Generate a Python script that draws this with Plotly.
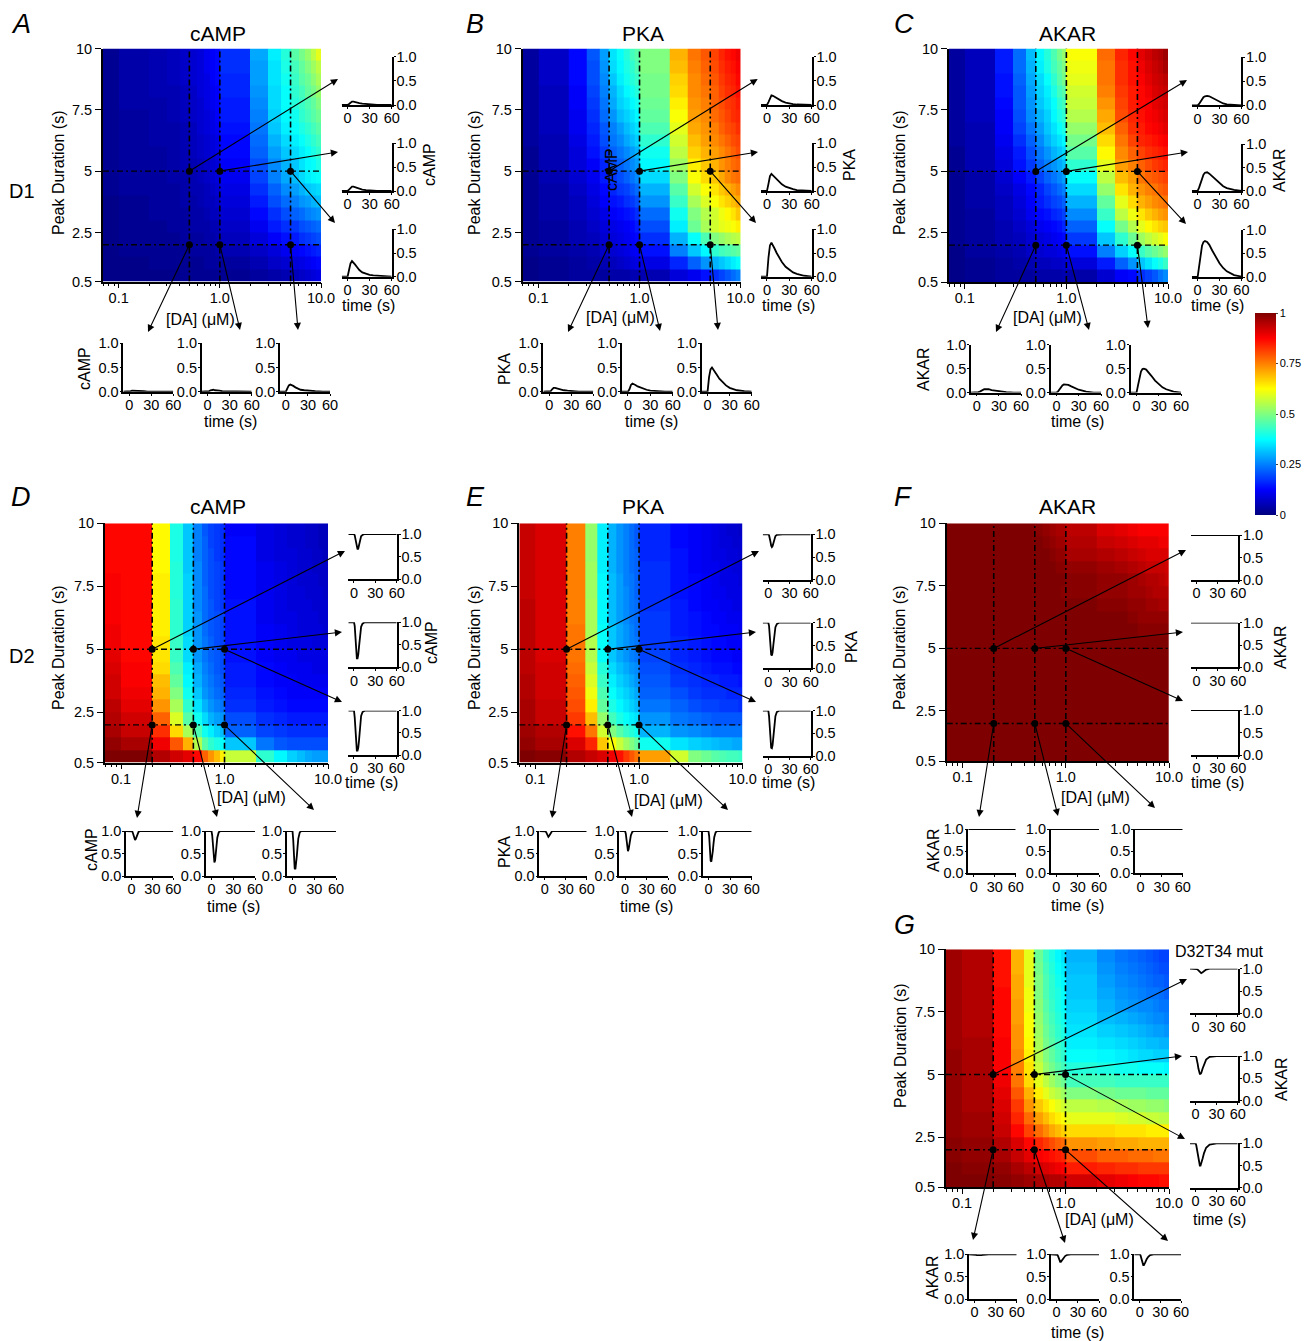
import math
import plotly.graph_objects as go

W, H = 1315, 1341
FONT = "Liberation Sans, Arial, sans-serif"
PAGE_OFFSET = 8  # default page margin of the written html

# ---------- data ----------
DA_EDGES = [0.07, 0.1, 0.2, 0.3, 0.4, 0.5, 0.6, 0.7, 0.8, 0.9, 1, 2, 3, 4, 5, 6, 7, 8, 9, 10]
PEAK_EDGES = [0.5, 1, 1.5, 2, 2.5, 3, 3.5, 4, 4.5, 5, 5.5, 6, 6.5, 7, 7.5, 8, 8.5, 9, 9.5, 10]
DA_MARKS_D1 = [0.5, 1, 5]
DA_MARKS_D2 = [0.2, 0.5, 1]
PEAK_MARKS = [5, 2]
T_RISE = [-8, 0, 2, 4, 6, 8, 10, 13, 16, 20, 25, 30, 35, 40, 50, 60]
T_DIP = [-8, 0, 1, 2, 3, 4, 5, 6, 7, 8, 10, 12, 15, 20, 30, 60]

# heat maps: percent of max, rows listed from the top (10 s) to the bottom (0.5 s)
A_ROWS = [
 [2,4,5,6,7,8,9,11,12,13,17,29,36,41,46,49,52,56,60],
 [2,4,5,6,7,8,9,11,12,13,17,28,35,40,44,47,50,53,56],
 [2,4,5,6,7,8,9,10,12,13,16,28,35,39,43,46,48,51,54],
 [2,4,5,5,6,7,9,10,11,12,16,27,34,38,42,44,47,49,52],
 [2,4,4,5,6,7,8,10,11,12,15,26,34,38,41,43,45,47,50],
 [2,3,4,5,6,7,8,9,10,12,15,25,33,37,39,42,44,46,48],
 [2,3,4,4,5,6,8,9,10,11,14,24,32,36,38,40,42,44,46],
 [2,3,4,4,5,6,7,8,9,10,13,23,30,34,36,38,40,42,44],
 [2,3,3,4,5,6,7,8,9,10,13,22,28,32,34,36,38,40,42],
 [2,3,3,4,5,5,6,7,8,9,12,20,26,30,32,35,37,38,40],
 [2,3,3,4,4,5,6,7,8,9,11,19,25,29,31,34,36,37,38],
 [2,3,3,3,4,5,5,6,7,8,10,17,22,26,28,30,32,33,34],
 [1,2,3,3,4,4,5,6,6,7,9,15,20,23,25,27,28,30,31],
 [1,2,3,3,3,4,4,5,6,6,8,13,17,20,22,23,25,26,27],
 [1,2,2,3,3,4,4,4,5,5,7,11,15,17,18,20,21,22,23],
 [1,2,2,2,3,3,3,4,4,5,6,9,12,14,15,17,18,19,20],
 [1,2,2,2,2,3,3,3,3,4,5,7,9,11,12,13,14,15,16],
 [1,1,2,2,2,2,2,3,3,3,3,5,7,8,9,10,11,12,13],
 [1,1,1,1,2,2,2,2,2,2,2,3,4,5,6,7,8,9,10],
]
B_ROWS = [
 [3,7,13,21,28,35,38,41,44,46,50,70,76,79,81,84,86,87,89],
 [3,7,13,20,27,34,37,40,42,45,50,69,75,78,80,83,85,86,88],
 [3,7,13,20,26,32,36,39,41,43,49,67,74,77,79,82,84,85,87],
 [3,6,12,19,25,30,34,37,39,41,49,66,74,76,78,81,83,84,86],
 [3,6,12,18,24,29,33,35,37,39,48,64,73,75,78,80,82,83,85],
 [3,6,11,17,23,27,31,33,35,37,47,62,72,74,77,79,81,83,84],
 [3,6,11,16,21,25,28,31,33,35,45,60,71,73,75,78,80,81,83],
 [3,5,10,15,20,24,26,29,31,33,42,58,69,72,74,76,78,80,81],
 [2,5,9,14,18,22,24,26,28,30,39,56,67,70,72,74,76,78,80],
 [2,5,9,12,16,20,22,24,26,28,37,53,64,68,70,73,75,77,78],
 [2,5,8,11,15,18,20,22,24,26,34,50,62,66,68,71,74,76,77],
 [2,4,7,10,13,16,18,19,21,23,30,46,58,62,65,68,70,72,74],
 [2,4,6,9,12,14,15,17,18,20,27,43,54,59,62,65,67,69,71],
 [2,4,6,8,10,12,13,14,15,17,23,39,50,55,58,61,63,65,68],
 [2,3,5,7,9,10,11,12,13,15,20,36,48,54,58,60,61,62,64],
 [2,3,5,6,8,9,10,11,12,13,17,30,38,45,50,52,54,55,56],
 [2,3,4,5,7,8,9,10,11,12,14,25,32,37,42,44,45,46,47],
 [1,2,3,4,5,6,7,8,9,10,10,16,22,27,30,32,34,36,38],
 [1,2,3,3,3,4,4,4,5,5,5,9,11,14,17,19,21,23,25],
]
C_ROWS = [
 [3,6,15,23,31,37,41,45,49,52,62,77,84,87,90,92,94,95,97],
 [3,6,15,23,30,36,40,44,47,50,61,76,83,86,89,91,93,94,96],
 [3,6,14,22,29,34,38,42,46,49,60,76,83,86,88,90,92,93,94],
 [3,6,14,21,28,33,36,40,44,46,58,75,82,85,87,89,91,92,93],
 [3,6,13,21,27,32,35,38,42,44,57,73,81,85,87,88,90,91,92],
 [3,6,12,20,26,30,33,37,40,42,55,71,80,84,86,88,89,90,91],
 [3,5,12,19,24,28,32,35,38,40,52,69,78,83,85,87,88,89,90],
 [3,5,11,17,22,26,30,33,35,37,49,66,76,81,84,85,86,87,88],
 [2,5,10,15,20,24,27,30,32,34,46,63,74,78,81,83,84,85,86],
 [2,5,9,14,18,22,25,27,29,31,42,60,72,75,78,80,82,83,84],
 [2,4,8,12,15,19,22,24,26,28,38,56,69,72,76,78,79,80,81],
 [2,4,7,10,13,16,19,21,23,25,34,52,65,70,73,75,76,78,79],
 [2,4,6,9,12,15,17,19,20,22,30,47,60,66,70,72,74,75,76],
 [2,3,6,8,11,13,14,16,17,19,26,43,56,61,65,68,70,72,73],
 [2,3,5,7,9,11,12,13,14,16,22,38,49,55,60,63,65,67,68],
 [2,3,5,6,8,9,10,11,12,13,18,32,42,48,53,56,58,60,62],
 [1,3,4,5,7,8,9,9,10,11,14,25,33,38,43,46,48,50,52],
 [1,2,3,4,5,6,6,7,7,8,9,15,22,27,32,35,38,40,43],
 [1,2,3,3,3,4,4,4,4,5,4,8,12,13,17,19,21,24,26],
]
D_ROWS = [
 [87,87,63,40,32,25,21,19,18,17,12,10,9,8,8,7,7,6,6],
 [87,87,63,40,32,25,22,19,18,17,13,10,9,8,8,7,7,6,6],
 [87,87,63,40,32,25,22,20,18,17,13,10,9,9,8,8,7,7,6],
 [87,87,63,41,32,26,22,20,19,18,13,11,10,9,8,8,7,7,7],
 [88,87,64,41,33,26,22,20,19,18,13,11,10,9,8,8,8,7,7],
 [88,87,64,41,33,26,23,20,19,18,13,11,10,9,9,8,8,8,7],
 [88,87,64,42,33,26,23,21,19,18,14,11,10,9,9,9,8,8,8],
 [88,87,64,42,33,27,23,21,20,19,14,11,10,10,9,9,9,8,8],
 [89,87,64,42,33,27,23,21,20,19,14,12,11,10,9,9,9,9,8],
 [89,87,65,43,34,27,24,22,20,19,14,12,11,10,10,10,9,9,9],
 [90,87,65,43,34,27,24,22,21,20,14,12,11,11,10,10,10,10,10],
 [91,88,66,45,36,29,25,23,21,20,15,13,12,11,11,11,10,10,10],
 [92,88,69,47,37,30,26,24,22,21,15,13,12,12,11,11,11,11,11],
 [92,89,70,50,39,32,27,25,23,22,16,14,13,12,12,12,12,12,12],
 [94,90,73,54,42,35,30,27,25,24,17,15,14,13,13,13,13,13,13],
 [95,92,78,59,46,39,34,30,28,27,20,17,16,15,15,15,15,15,15],
 [96,93,83,66,54,45,39,36,33,31,22,19,18,17,17,17,17,17,17],
 [98,96,89,79,70,55,46,42,40,38,32,24,21,20,20,20,20,20,20],
 [100,100,95,92,90,87,78,73,69,64,57,42,37,33,31,29,28,28,28],
]
E_ROWS = [
 [93,91,75,52,36,30,27,25,23,21,16,13,12,11,10,9,8,8,7],
 [93,91,75,52,36,30,27,25,23,21,16,13,12,11,10,9,9,8,8],
 [93,91,75,52,36,30,27,25,23,22,16,14,12,11,10,10,9,9,8],
 [93,91,75,53,36,30,27,25,23,22,17,14,12,11,11,10,10,9,9],
 [93,91,75,53,37,31,28,25,24,22,17,14,13,12,11,10,10,10,9],
 [93,91,75,53,37,31,28,26,24,22,17,14,13,12,11,11,10,10,10],
 [94,91,75,54,37,31,28,26,24,23,17,15,13,12,12,11,11,10,10],
 [94,91,75,54,37,31,28,26,24,23,18,15,14,13,12,12,11,11,11],
 [94,91,76,54,38,32,29,27,25,23,18,15,14,13,13,12,12,12,11],
 [94,91,76,55,38,32,29,27,25,24,18,16,15,14,13,13,12,12,12],
 [94,91,76,55,38,32,29,27,25,24,19,16,15,14,13,13,13,12,12],
 [94,92,77,57,41,34,31,29,27,26,20,17,16,15,14,14,14,13,13],
 [95,92,78,59,43,36,33,31,29,27,21,18,17,16,16,15,15,15,14],
 [95,92,79,61,45,38,35,33,31,29,22,20,18,17,17,17,16,16,16],
 [96,93,80,64,47,40,37,35,33,31,24,22,20,19,19,18,18,18,17],
 [96,93,82,69,52,44,40,38,36,35,27,24,23,22,21,21,21,21,21],
 [97,95,86,76,58,50,46,43,41,39,30,27,26,25,24,24,24,24,24],
 [98,96,91,84,68,62,57,53,50,47,39,35,33,32,31,30,30,29,29],
 [100,99,95,93,91,89,86,82,79,76,72,58,50,48,46,45,44,44,43],
]
F_ROWS = [
 [100,100,100,100,100,99,98,97,96,96,94,91,90,89,88,88,88,88,88],
 [100,100,100,100,100,100,99,98,97,97,95,93,92,91,90,90,90,89,89],
 [100,100,100,100,100,100,100,99,98,98,96,95,94,93,92,91,91,91,91],
 [100,100,100,100,100,100,100,100,99,99,98,97,96,95,94,93,93,93,92],
 [100,100,100,100,100,100,100,100,100,100,99,98,98,97,96,95,95,94,93],
 [100,100,100,100,100,100,100,100,100,99,99,98,98,97,97,96,95,95,95],
 [100,100,100,100,100,100,100,100,100,100,100,99,99,98,98,97,97,96,96],
 [100,100,100,100,100,100,100,100,100,100,100,100,100,99,98,98,98,98,98],
 [100,100,100,100,100,100,100,100,100,100,100,100,100,100,99,99,99,99,99],
 [100,100,100,100,100,100,100,100,100,100,100,100,100,100,100,100,100,100,100],
 [100,100,100,100,100,100,100,100,100,100,100,100,100,100,100,100,100,100,100],
 [100,100,100,100,100,100,100,100,100,100,100,100,100,100,100,100,100,100,100],
 [100,100,100,100,100,100,100,100,100,100,100,100,100,100,100,100,100,100,100],
 [100,100,100,100,100,100,100,100,100,100,100,100,100,100,100,100,100,100,100],
 [100,100,100,100,100,100,100,100,100,100,100,100,100,100,100,100,100,100,100],
 [100,100,100,100,100,100,100,100,100,100,100,100,100,100,100,100,100,100,100],
 [100,100,100,100,100,100,100,100,100,100,100,100,100,100,100,100,100,100,100],
 [100,100,100,100,100,100,100,100,100,100,100,100,100,100,100,100,100,100,100],
 [100,100,100,100,100,100,100,100,100,100,100,100,100,100,100,100,100,100,100],
]
G_ROWS = [
 [97,95,86,70,60,48,43,40,37,35,30,26,24,23,22,21,20,19,19],
 [97,95,86,70,60,49,44,41,38,36,31,27,25,24,23,22,21,20,20],
 [97,95,86,71,60,50,45,42,39,37,32,28,26,25,24,23,22,22,21],
 [97,95,87,71,61,50,45,42,40,38,32,29,27,26,25,24,24,23,22],
 [97,95,87,72,61,51,46,43,40,38,33,30,28,27,26,26,25,24,24],
 [97,95,87,72,62,52,47,44,41,39,34,31,30,29,28,27,26,26,25],
 [97,95,87,73,62,53,48,45,42,40,35,33,32,31,30,29,28,28,27],
 [97,96,88,73,63,54,49,46,43,41,36,35,34,33,32,31,31,30,30],
 [98,96,88,74,64,55,50,47,44,42,38,37,36,35,34,34,33,33,33],
 [98,96,88,75,65,57,52,49,46,44,41,40,39,39,38,38,38,38,37],
 [98,96,89,76,66,60,56,53,50,48,44,44,43,43,43,43,43,43,43],
 [98,96,90,79,70,64,60,57,55,53,50,49,48,48,48,47,47,47,47],
 [98,96,91,82,73,68,65,62,60,58,56,55,54,53,53,52,52,52,51],
 [98,97,92,84,77,72,69,66,64,62,60,60,59,58,58,57,57,56,56],
 [98,97,93,87,81,77,74,71,69,67,66,66,65,65,65,64,64,64,64],
 [99,98,95,91,87,84,82,80,78,77,73,72,71,71,70,70,70,70,70],
 [99,98,96,93,90,88,87,86,85,84,80,78,78,77,77,77,76,76,76],
 [100,99,98,96,94,92,91,90,89,88,85,84,83,83,82,82,82,82,82],
 [100,100,99,98,97,96,96,95,95,94,92,90,89,88,87,87,87,86,86],
]

# time courses (three right insets, then three lower insets)
A_TRACES = [
 [0,0,.02,.05,.07,.07,.06,.05,.04,.03,.02,.01,.01,0,0,0],
 [0,0,.03,.07,.09,.09,.08,.06,.05,.03,.02,.01,.01,0,0,0],
 [0,0,.14,.28,.33,.3,.26,.2,.14,.09,.06,.04,.03,.02,.01,0],
 [0,0,.01,.02,.02,.02,.02,.01,.01,.01,0,0,0,0,0,0],
 [0,0,.01,.03,.04,.04,.03,.03,.02,.01,.01,0,0,0,0,0],
 [0,0,.07,.13,.15,.14,.12,.09,.07,.04,.03,.02,.01,.01,0,0],
]
B_TRACES = [
 [0,0,.06,.15,.2,.19,.17,.14,.11,.08,.05,.03,.02,.01,0,0],
 [0,0,.15,.31,.36,.33,.29,.24,.19,.14,.09,.06,.04,.02,.01,0],
 [0,0,.4,.66,.72,.67,.6,.5,.41,.31,.21,.14,.09,.06,.02,0],
 [0,0,.01,.05,.08,.08,.07,.06,.05,.03,.02,.01,.01,0,0,0],
 [0,0,.05,.14,.17,.16,.14,.11,.09,.06,.04,.02,.01,.01,0,0],
 [0,0,.3,.46,.5,.46,.41,.34,.27,.2,.13,.08,.05,.03,.01,0],
]
C_TRACES = [
 [0,0,.03,.08,.13,.17,.19,.2,.19,.16,.11,.07,.04,.02,.01,0],
 [0,0,.07,.18,.28,.35,.39,.4,.37,.31,.23,.16,.1,.06,.02,0],
 [0,0,.22,.5,.66,.74,.76,.74,.68,.56,.41,.29,.19,.12,.04,.01],
 [0,0,.01,.02,.04,.06,.07,.07,.07,.05,.04,.03,.01,.01,0,0],
 [0,0,.02,.07,.12,.15,.17,.17,.16,.13,.09,.06,.04,.02,0,0],
 [0,0,.15,.34,.44,.49,.5,.48,.43,.35,.25,.17,.11,.07,.02,0],
]
D_TRACES = [
 [1,1,.97,.9,.8,.7,.66,.68,.75,.84,.95,.98,1,1,1,1],
 [1,1,.92,.65,.35,.2,.2,.28,.45,.65,.9,.97,1,1,1,1],
 [1,1,.85,.5,.2,.1,.1,.16,.32,.55,.88,.97,1,1,1,1],
 [1,1,.99,.95,.88,.82,.8,.82,.87,.93,.98,1,1,1,1,1],
 [1,1,.9,.6,.35,.3,.35,.5,.7,.85,.97,1,1,1,1,1],
 [1,1,.8,.4,.17,.15,.25,.45,.65,.83,.97,1,1,1,1,1],
]
E_TRACES = [
 [1,1,.98,.93,.84,.75,.72,.74,.8,.87,.96,.99,1,1,1,1],
 [1,1,.93,.7,.42,.3,.28,.35,.5,.68,.9,.97,1,1,1,1],
 [1,1,.88,.58,.28,.18,.17,.24,.4,.6,.88,.97,1,1,1,1],
 [1,1,.99,.97,.92,.88,.87,.89,.92,.95,.99,1,1,1,1,1],
 [1,1,.94,.75,.58,.55,.6,.7,.82,.9,.98,1,1,1,1,1],
 [1,1,.88,.55,.34,.32,.4,.55,.72,.86,.97,1,1,1,1,1],
]
F_TRACES = [
 [1,1,1,1,1,1,1,1,1,1,1,1,1,1,1,1],
 [1,1,1,1,1,1,1,1,1,1,1,1,1,1,1,1],
 [1,1,1,1,1,1,1,1,1,1,1,1,1,1,1,1],
 [1,1,1,1,1,1,1,1,1,1,1,1,1,1,1,1],
 [1,1,1,1,1,1,1,1,1,1,1,1,1,1,1,1],
 [1,1,1,1,1,1,1,1,1,1,1,1,1,1,1,1],
]
G_TRACES = [
 [1,1,1,.99,.98,.96,.94,.92,.9,.9,.92,.95,.98,1,1,1],
 [1,1,.97,.92,.82,.72,.64,.6,.6,.62,.72,.82,.92,.98,1,1],
 [1,1,.95,.85,.72,.6,.52,.5,.5,.54,.66,.78,.9,.97,1,1],
 [1,1,1,.99,.98,.98,.97,.97,.97,.97,.98,.99,1,1,1,1],
 [1,1,.99,.96,.9,.85,.83,.83,.85,.87,.92,.96,.99,1,1,1],
 [1,1,.98,.92,.84,.78,.76,.76,.78,.82,.89,.94,.98,1,1,1],
]

# ---------- layout of the seven panels (page pixels) ----------
PANELS = [
 dict(rows=A_ROWS, traces=A_TRACES, t=T_RISE, da=DA_MARKS_D1, name="cAMP", box=(103,321,48.5,281.5),
      right_x=(341.7,391.7), right_y=[(56.7,105),(143.3,191),(229.3,276.7)],
      low_x=[(123.3,173.3),(201.7,251.7),(280,330)], low_y=(343.3,391.7),
      heads=[(338,79),(338,152),(335,223),(148,332),(240,330),(298,330)],
      letter=("A",21,24), title=(218,33), peak=(59,173), dalab=(200,319), rlab=(430,165), rtime=(368,305), llab=(85,369), ltime=(230,421)),
 dict(rows=B_ROWS, traces=B_TRACES, t=T_RISE, da=DA_MARKS_D1, name="PKA", box=(522.7,740.7,48.5,281.5),
      right_x=(761,811.7), right_y=[(56.7,105),(143.3,191),(229.3,276.7)],
      low_x=[(543.3,593.3),(622,672.7),(701.7,751.7)], low_y=(343.3,391.7),
      heads=[(757.7,79),(758,152),(756,223),(568,332),(660,331),(718,330)],
      letter=("B",475,24), title=(643,33), peak=(475,173), dalab=(620,317), rlab=(850,165), rtime=(788,305), llab=(505,369), ltime=(651,421)),
 dict(rows=C_ROWS, traces=C_TRACES, t=T_RISE, da=DA_MARKS_D1, name="AKAR", box=(949,1168,48.5,282),
      right_x=(1191.8,1241.4), right_y=[(57.4,105.4),(144.3,190.9),(229.7,277)],
      low_x=[(971,1021),(1050.5,1101),(1130.6,1181)], low_y=(344.6,392.6),
      heads=[(1187,80),(1188,152),(1186,224),(996,332),(1089,330),(1148,328)],
      letter=("C",904,24), title=(1067,33), peak=(900,173), dalab=(1047,317), rlab=(1279,170), rtime=(1217,305), llab=(924,369), ltime=(1077,421)),
 dict(rows=D_ROWS, traces=D_TRACES, t=T_DIP, da=DA_MARKS_D2, name="cAMP", box=(105,328,523.3,762.7),
      right_x=(348.3,396.7), right_y=[(534,579.3),(622.3,667.3),(710.7,755)],
      low_x=[(126,173.3),(205.7,255),(286.7,336)], low_y=(831,876),
      heads=[(345,551),(342,632),(342,702),(137,818),(217,817),(314,810)],
      letter=("D",21,497), title=(218,507), peak=(59,648), dalab=(252,797), rlab=(431,643), rtime=(371,782), llab=(91,850), ltime=(234,907)),
 dict(rows=E_ROWS, traces=E_TRACES, t=T_DIP, da=DA_MARKS_D2, name="PKA", box=(519.3,742.7,523.3,762.7),
      right_x=(762.7,810.7), right_y=[(534.3,579.7),(622.7,668.3),(710.7,756)],
      low_x=[(539.3,586.7),(619.3,668.3),(702.7,751.7)], low_y=(831,876),
      heads=[(759,551),(756,632),(756,702),(552,818),(632,817),(728,810)],
      letter=("E",475,497), title=(643,507), peak=(475,648), dalab=(668,800), rlab=(851,647), rtime=(788,782), llab=(504,852), ltime=(646,906)),
 dict(rows=F_ROWS, traces=F_TRACES, t=T_DIP, da=DA_MARKS_D2, name="AKAR", box=(946.7,1169,523.3,761),
      right_x=(1191,1238.3), right_y=[(535,580),(622.7,667.3),(710,755)],
      low_x=[(968.3,1015.7),(1050.7,1099),(1135,1182.7)], low_y=(829,873.3),
      heads=[(1186,550),(1183,632),(1183,701),(979,817),(1058,816),(1155,808)],
      letter=("F",903,497), title=(1067,507), peak=(900,648), dalab=(1095,797), rlab=(1280,647), rtime=(1217,782), llab=(933,850), ltime=(1077,905)),
 dict(rows=G_ROWS, traces=G_TRACES, t=T_DIP, da=DA_MARKS_D2, name="AKAR", box=(946,1169,949.3,1187.3),
      right_x=(1190,1237.7), right_y=[(968.7,1013.3),(1056,1100.7),(1143.3,1187.7)],
      low_x=[(969,1016.7),(1051,1099),(1134.3,1181)], low_y=(1254.3,1299),
      heads=[(1187,979),(1182,1056),(1185,1139),(973,1240),(1065,1243),(1168,1241)],
      letter=("G",904,925), title=None, peak=(900,1046), dalab=(1099,1219), rlab=(1281,1079), rtime=(1219,1219), llab=(932,1277), ltime=(1077,1332)),
]

JET = [[0, "#00007f"], [0.125, "#0000ff"], [0.375, "#00ffff"], [0.625, "#ffff00"], [0.875, "#ff0000"], [1, "#7f0000"]]
X_LOG_RANGE = [math.log10(0.07), 1]
MINOR_DA = [0.07, 0.08, 0.09, 0.2, 0.3, 0.4, 0.5, 0.6, 0.7, 0.8, 0.9, 2, 3, 4, 5, 6, 7, 8, 9]

fig = go.Figure()
layout = {}
annots = []
count = 0


def fx(x):
    return (x - PAGE_OFFSET) / W


def fy(y):
    return 1 - (y - PAGE_OFFSET) / H


def text(s, x, y, size=16, angle=0):
    annots.append(dict(text=s, x=fx(x), y=fy(y), xref="paper", yref="paper", showarrow=False,
                       xanchor="center", yanchor="middle", textangle=angle,
                       font=dict(family=FONT, size=size, color="black")))


def new_axes(xbox, ybox, xopts, yopts):
    global count
    count += 1
    n = "" if count == 1 else str(count)
    layout["xaxis" + n] = dict(domain=[fx(xbox[0]), fx(xbox[1])], anchor="y" + n, showgrid=False, zeroline=False,
                               showline=True, linecolor="black", ticks="outside", tickcolor="black",
                               tickfont=dict(family=FONT, size=14.5, color="black"), **xopts)
    layout["yaxis" + n] = dict(domain=[fy(ybox[1]), fy(ybox[0])], anchor="x" + n, showgrid=False, zeroline=False,
                               showline=True, linecolor="black", ticks="outside", tickcolor="black",
                               tickfont=dict(family=FONT, size=14.5, color="black"), **yopts)
    return "x" + n, "y" + n


def inset(xbox, ybox, t, values, side, lw):
    xa, ya = new_axes(
        xbox, ybox,
        dict(range=[-8, 60], tickvals=[0, 30, 60], ticktext=["0", "30", "60"], ticklen=2, linewidth=1.6, tickwidth=1,
             ticklabelstandoff=-3),
        dict(range=[0, 1], tickvals=[0, 0.5, 1], ticktext=["0.0", "0.5", "1.0"], ticklen=2, linewidth=1.6,
             tickwidth=1, side=side, ticklabelstandoff=-2),
    )
    fig.add_trace(go.Scatter(x=t, y=values, xaxis=xa, yaxis=ya, mode="lines", cliponaxis=False,
                             line=dict(color="black", width=lw), hoverinfo="skip", showlegend=False))


for p in PANELS:
    x0, x1, y0, y1 = p["box"]
    xa, ya = new_axes(
        (x0, x1), (y0, y1),
        dict(type="log", range=X_LOG_RANGE, tickvals=[0.1, 1, 10], ticktext=["0.1", "1.0", "10.0"], ticklen=5,
             linewidth=1.5, tickwidth=1.2, ticklabelstandoff=-3,
             minor=dict(tickvals=MINOR_DA, ticks="outside", ticklen=3, tickcolor="black")),
        dict(range=[0.5, 10], tickvals=[0.5, 2.5, 5, 7.5, 10], ticktext=["0.5", "2.5", "5", "7.5", "10"], ticklen=6,
             linewidth=2, tickwidth=1.2),
    )
    z = [[v / 100 for v in row] for row in p["rows"][::-1]]
    fig.add_trace(go.Heatmap(x=DA_EDGES, y=PEAK_EDGES, z=z, xaxis=xa, yaxis=ya, coloraxis="coloraxis", hoverinfo="skip"))

    # cross-hair lines and dots, from the data values
    for da in p["da"]:
        fig.add_trace(go.Scatter(x=[da, da], y=[PEAK_EDGES[0], PEAK_EDGES[-1]], xaxis=xa, yaxis=ya, mode="lines",
                                 line=dict(color="black", width=1.6, dash="6px,3px,2px,3px"), hoverinfo="skip", showlegend=False))
    for peak in PEAK_MARKS:
        fig.add_trace(go.Scatter(x=[DA_EDGES[0], DA_EDGES[-1]], y=[peak, peak], xaxis=xa, yaxis=ya, mode="lines",
                                 line=dict(color="black", width=1.4, dash="6px,3px,2px,3px"), hoverinfo="skip", showlegend=False))
    fig.add_trace(go.Scatter(x=[d for _ in PEAK_MARKS for d in p["da"]],
                             y=[pk for pk in PEAK_MARKS for _ in p["da"]], xaxis=xa, yaxis=ya, mode="markers",
                             marker=dict(color="black", size=7), hoverinfo="skip", showlegend=False))

    # arrows from each dot to its inset
    dec = (x1 - x0) / (X_LOG_RANGE[1] - X_LOG_RANGE[0])
    starts = [(x0 + (math.log10(d) - X_LOG_RANGE[0]) * dec, y1 - (pk - 0.5) * (y1 - y0) / 9.5)
              for pk in PEAK_MARKS for d in p["da"]]
    for (sx, sy), (hx, hy) in zip(starts, p["heads"]):
        annots.append(dict(x=fx(hx), y=fy(hy), xref="paper", yref="paper", text="", showarrow=True,
                           axref="pixel", ayref="pixel", ax=sx - hx, ay=sy - hy, arrowhead=2, arrowsize=1.3,
                           arrowwidth=1.1, arrowcolor="black", standoff=0, startstandoff=0))

    lw = 1.8
    for i in range(3):
        inset(p["right_x"], p["right_y"][i], p["t"], p["traces"][i], "right", lw)
    for i in range(3):
        inset(p["low_x"][i], p["low_y"], p["t"], p["traces"][i + 3], "left", lw)

    name = p["name"]
    L = p["letter"]
    text("<i>%s</i>" % L[0], L[1], L[2], size=27)
    if p["title"]:
        text(name, p["title"][0], p["title"][1], size=21)
    text("Peak Duration (s)", p["peak"][0], p["peak"][1], angle=-90)
    text("[DA] (μM)", p["dalab"][0], p["dalab"][1])
    text(name, p["rlab"][0], p["rlab"][1], angle=-90)
    text("time (s)", p["rtime"][0], p["rtime"][1])
    text(name, p["llab"][0], p["llab"][1], angle=-90)
    text("time (s)", p["ltime"][0], p["ltime"][1])

text("D1", 22, 191, size=20)
text("D2", 22, 656, size=20)
text("cAMP", 611, 170, angle=-90)
text("D32T34 mut", 1219, 951, size=16)

layout.update(
    width=W, height=H, margin=dict(l=0, r=0, t=0, b=0, autoexpand=False), autosize=False, paper_bgcolor="white", plot_bgcolor="white",
    showlegend=False, annotations=annots, font=dict(family=FONT, color="black"),
    coloraxis=dict(
        colorscale=JET, cmin=0, cmax=1,
        colorbar=dict(x=fx(1255), xanchor="left", xpad=0, ypad=0, y=fy(515), yanchor="bottom", lenmode="pixels", len=202,
                      thicknessmode="pixels", thickness=21, outlinewidth=0, tickvals=[0, 0.25, 0.5, 0.75, 1],
                      ticktext=["0", "0.25", "0.5", "0.75", "1"], ticks="outside", ticklen=2,
                      tickfont=dict(family=FONT, size=11, color="black")),
    ),
)
fig.update_layout(**layout)
fig.write_html("out.html")
